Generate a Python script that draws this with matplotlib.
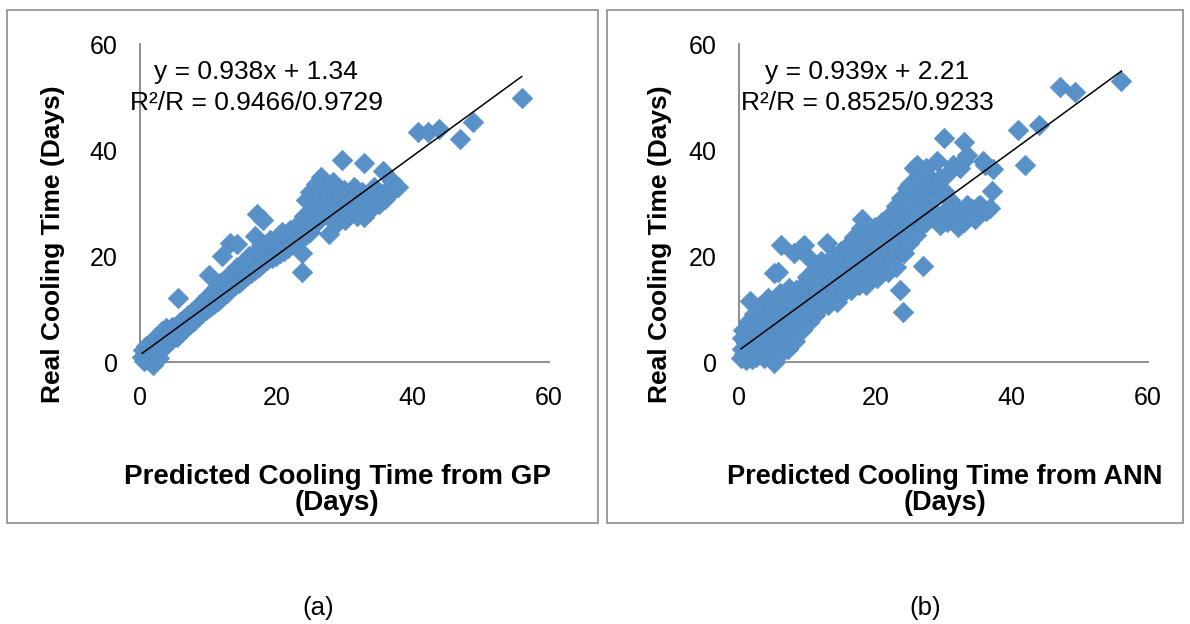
import matplotlib
matplotlib.use("Agg")
import matplotlib.pyplot as plt
from matplotlib.patches import Rectangle

plt.rcParams['font.family'] = ['Liberation Sans', 'DejaVu Sans']

# ---------------- data ----------------
gp_x = [0.3, 0.5, 0.6, 0.9, 1.0, 1.3, 1.5, 1.7, 1.9, 2.0, 2.2, 2.4, 2.6, 2.8, 3.0, 3.2, 3.4, 3.6, 3.8, 4.0,
        4.2, 4.5, 4.7, 5.0, 5.3, 5.5, 5.6, 5.8, 6.1, 6.4, 6.7, 7.0, 7.3, 7.6, 7.9, 8.2, 8.5, 8.8, 9.1, 9.4,
        9.7, 10.0, 10.1, 10.3, 10.6, 10.9, 11.2, 11.5, 11.8, 12.0, 12.1, 12.4, 12.7, 13.0, 13.2, 13.3, 13.6,
        13.9, 14.2, 14.3, 14.5, 14.8, 15.1, 15.4, 15.7, 16.0, 16.3, 16.6, 16.8, 16.9, 17.1, 17.2, 17.5, 17.8,
        18.0, 18.1, 18.4, 18.7, 19.0, 19.3, 19.6, 19.9, 20.2, 20.5, 20.8, 21.1, 21.4, 21.7, 22.0, 22.3, 22.6,
        22.9, 23.2, 23.5, 23.7, 23.8, 24.1, 24.3, 24.4, 24.7, 24.9, 25.0, 25.3, 25.6, 25.8, 25.9, 26.2, 26.5,
        26.6, 26.8, 27.1, 27.4, 27.7, 27.7, 28.0, 28.3, 28.6, 28.8, 29.0, 29.2, 29.7, 29.5, 29.9, 30.0, 30.4,
        30.8, 31.1, 31.4, 31.8, 32.2, 32.5, 32.8, 32.8, 33.2, 33.6, 34.0, 34.4, 34.8, 35.0, 35.3, 35.6, 35.9,
        36.3, 36.7, 36.9, 37.1, 37.8, 40.8, 42.3, 43.9, 46.9, 48.8, 56.0]
gp_y = [1.0, 2.2, 0.2, 3.0, 1.2, 0.4, 2.5, 3.8, -0.5, 1.6, 3.0, 4.8, 2.0, 0.8, 3.8, 5.8, 2.6, 4.5, 6.4, 3.4,
        5.2, 4.2, 6.6, 5.0, 6.8, 4.8, 12.0, 7.5, 5.8, 8.2, 6.5, 8.8, 7.2, 9.5, 7.8, 10.0, 8.6, 11.0, 9.2, 11.5,
        9.8, 12.5, 16.4, 10.4, 13.0, 11.0, 14.0, 11.6, 15.0, 20.0, 12.2, 15.5, 13.0, 16.5, 22.4, 14.0, 17.0,
        14.5, 18.0, 22.2, 15.0, 17.5, 15.6, 19.0, 16.2, 20.0, 16.8, 19.5, 23.8, 17.4, 28.0, 21.0, 18.0, 22.0,
        26.8, 18.6, 21.5, 19.2, 23.0, 19.6, 22.0, 20.0, 23.5, 20.5, 24.5, 21.0, 23.8, 21.6, 25.0, 22.2, 24.5,
        22.8, 26.0, 23.2, 17.0, 20.5, 27.5, 30.5, 24.0, 26.5, 32.1, 24.5, 28.0, 26.0, 33.5, 30.0, 27.0, 31.5,
        35.0, 28.0, 33.0, 29.0, 24.2, 31.5, 27.0, 34.0, 29.5, 33.1, 26.5, 31.0, 38.2, 28.5, 32.5, 26.7, 30.0,
        28.0, 30.5, 33.0, 27.5, 29.5, 32.0, 37.6, 27.3, 30.5, 28.5, 31.0, 33.0, 30.0, 29.9, 31.5, 36.0, 30.8,
        32.5, 31.8, 34.1, 32.5, 33.1, 43.4, 43.4, 43.9, 42.0, 45.2, 49.8]

ann_x = [0.3, 0.5, 0.4, 0.6, 0.8, 1.0, 1.0, 1.2, 1.3, 1.5, 1.6, 1.7, 1.9, 2.0, 2.2, 2.3, 2.5, 2.6, 2.8, 3.0,
         3.1, 3.3, 3.5, 3.6, 3.8, 4.0, 4.2, 4.3, 4.5, 4.6, 4.8, 5.0, 5.2, 5.2, 5.3, 5.5, 5.7, 5.8, 6.0, 6.0,
         6.2, 6.3, 6.5, 6.7, 6.9, 7.0, 7.2, 7.4, 7.5, 7.7, 7.9, 8.0, 8.2, 8.3, 8.5, 8.7,
         8.9, 9.0, 9.2, 9.4, 9.6, 9.6, 9.8, 10.0, 10.2, 10.4, 10.4, 10.6, 10.8, 11.0, 11.2, 11.4, 11.6, 11.8,
         12.0, 12.2, 12.4, 12.6, 12.9, 12.8, 13.0, 13.2, 13.4, 13.6, 13.8, 14.0, 14.2, 14.4, 14.6, 14.8, 15.0,
         15.2, 15.4, 15.6, 15.8, 16.0, 16.2, 16.4, 16.6, 16.8, 17.0, 17.2, 17.4, 17.6, 17.9, 17.8, 18.1, 18.0,
         18.3, 18.5, 18.7, 19.0, 19.2, 19.4, 19.6, 19.8, 20.0, 20.2, 20.4, 20.6, 20.8, 21.0, 21.2, 21.4, 21.6,
         21.8, 22.0, 22.2, 22.4, 22.6, 22.8, 23.0, 23.1, 23.6, 24.0, 23.3, 23.5, 23.8, 24.0, 24.2, 24.5, 24.6,
         24.8, 25.1, 25.0, 25.3, 25.6, 25.6, 26.0, 26.1, 26.2, 26.5, 26.6, 27.0, 27.0, 27.3, 27.5, 27.5, 27.8,
         28.0, 28.2, 28.5, 28.5, 28.8, 29.0, 29.0, 29.3, 29.5, 29.5, 30.0, 30.0, 30.2, 30.5, 30.5, 31.0, 31.4,
         31.4, 31.8, 32.2, 32.4, 32.5, 32.9, 33.0, 33.0, 33.4, 33.4, 33.8, 34.2, 34.6, 35.0, 35.3, 35.8, 36.1,
         36.3, 36.8, 37.1, 37.3, 41.0, 41.9, 44.0, 47.1, 49.3, 56.1]
ann_y = [0.8, 2.5, 4.5, 6.0, 1.5, 3.5, 0.3, 5.5, 7.5, 2.2, 11.6, 4.5, 0.6, 6.5, 9.0, 3.0, 1.0, 5.0, 7.8, 2.0,
         10.5, 4.0, 6.2, 0.8, 8.5, 3.0, 12.0, 5.5, 1.5, 7.0, 9.8, 2.5, 16.8, -0.1, 11.0, 4.5, 17.0, 8.0, 1.5, 13.0,
         22.0, 6.0, 10.0, 3.5, 12.0, 7.5, 2.5, 14.0, 9.0, 5.0, 11.0, 20.5, 4.0, 13.5, 7.0, 9.5,
         21.4, 12.0, 6.0, 14.5, 22.1, 8.5, 11.0, 16.0, 7.5, 19.5, 13.0, 9.5, 15.0, 11.5, 8.8, 17.0, 13.0, 10.0,
         19.0, 15.0, 11.5, 17.0, 22.5, 13.0, 10.8, 18.5, 15.0, 12.0, 20.0, 16.5, 13.5, 11.3, 18.5, 15.0, 21.0,
         13.0, 17.0, 19.5, 14.5, 22.0, 16.0, 13.5, 19.0, 23.5, 15.5, 21.0, 17.5, 14.5, 25.2, 19.5, 27.0, 16.0,
         22.5, 18.5, 14.5, 24.0, 20.0, 16.5, 22.5, 18.0, 25.5, 15.8, 21.0, 23.5, 17.8, 26.5, 19.5, 24.0, 21.5,
         17.0, 27.5, 23.0, 19.0, 25.0, 21.0, 29.5, 18.0, 13.5, 9.4, 26.0, 22.5, 31.0, 24.5, 20.5, 28.0, 32.8,
         26.0, 33.5, 22.5, 30.0, 36.6, 27.5, 24.0, 37.2, 31.5, 34.7, 28.5, 18.2, 26.0, 32.0, 36.6, 26.5, 30.0,
         33.5, 28.5, 34.1, 27.8, 31.0, 37.9, 27.8, 33.0, 34.7, 25.9, 42.3, 32.2, 28.5, 35.4, 26.5, 30.5, 37.2,
         27.1, 29.0, 25.5, 36.6, 28.2, 37.9, 41.5, 26.5, 29.7, 39.1, 27.5, 28.8, 27.0, 29.5, 29.7, 37.9, 37.2,
         28.4, 29.0, 32.2, 36.4, 43.8, 37.2, 44.8, 51.8, 50.9, 53.1]

gp_fit = (0.938, 1.34)
ann_fit = (0.939, 2.21)
gp_eq = ["y = 0.938x + 1.34", "R\u00b2/R = 0.9466/0.9729"]
ann_eq = ["y = 0.939x + 2.21", "R\u00b2/R = 0.8525/0.9233"]
ticks = [0, 20, 40, 60]
ylabel = "Real Cooling Time (Days)"
xlabels = ["Predicted Cooling Time from GP\n(Days)", "Predicted Cooling Time from ANN\n(Days)"]
panel_tags = ["(a)", "(b)"]

# ---------------- figure ----------------
W, H = 1190, 624
fig = plt.figure(figsize=(W / 100, H / 100), dpi=100)

def fx(px):
    return px / W

def fy(py):
    return 1 - py / H

# panel frames
for (l, r) in [(7, 598), (607, 1183)]:
    fig.patches.append(Rectangle((fx(l), fy(523)), fx(r) - fx(l), fy(10) - fy(523),
                                 transform=fig.transFigure, fill=False,
                                 edgecolor='#8c8c8c', linewidth=1.2))

marker_col = '#5890C8'
edge_col = '#4F86C2'
grey = '#868686'

panels = [
    (140, gp_x, gp_y, gp_fit, gp_eq, 256, 53, 337, 318, 20),
    (739, ann_x, ann_y, ann_fit, ann_eq, 867, 660, 945, 925, 19.5),
]
for i, (left_px, xs, ys, fit, eq, eq_cx, ylab_x, xlab_x, tag_x, xfs) in enumerate(panels):
    ax = fig.add_axes([fx(left_px), fy(362), (549 - 140) / W, (362 - 44) / H])
    ax.set_xlim(0, 60)
    ax.set_ylim(0, 60)
    ax.scatter(xs, ys, marker='D', s=112, color=marker_col, edgecolors=edge_col,
               linewidths=0.3, zorder=2, clip_on=False)
    m, b = fit
    x0, x1 = min(xs), max(xs)
    ax.plot([x0, x1], [m * x0 + b, m * x1 + b], color='black', linewidth=1.1, zorder=3,
            clip_on=False)
    for s in ['top', 'right']:
        ax.spines[s].set_visible(False)
    for s in ['left', 'bottom']:
        ax.spines[s].set_color(grey)
        ax.spines[s].set_linewidth(1.3)
        ax.spines[s].set_zorder(1)
    ax.set_xticks(ticks)
    ax.set_yticks(ticks)
    ax.tick_params(axis='both', length=0, labelsize=18, colors='black')
    ax.tick_params(axis='y', pad=16)
    ax.tick_params(axis='x', pad=17)
    ax.patch.set_visible(False)

    fig.text(fx(eq_cx), fy(72), eq[0], ha='center', va='center', fontsize=19)
    fig.text(fx(eq_cx), fy(103), eq[1], ha='center', va='center', fontsize=19)
    fig.text(fx(ylab_x), fy(244), ylabel, rotation=90, ha='center', va='center',
             fontsize=19, fontweight='bold')
    fig.text(fx(xlab_x), fy(490), xlabels[i], ha='center', va='center',
             fontsize=xfs, fontweight='bold', linespacing=0.95, multialignment='center')
    fig.text(fx(tag_x), fy(608), panel_tags[i], ha='center', va='center', fontsize=18.5)

fig.savefig('out.png', dpi=100)
